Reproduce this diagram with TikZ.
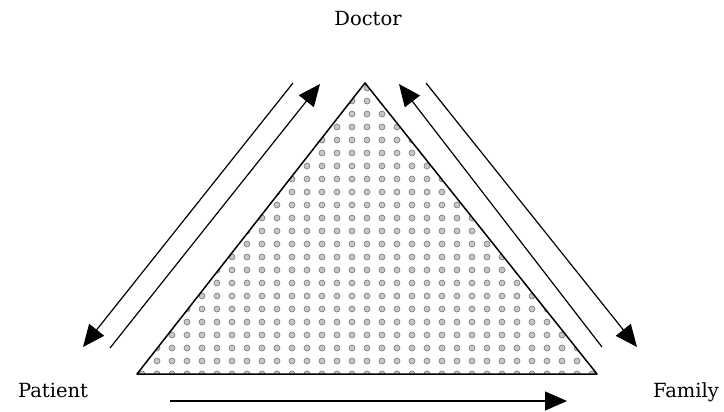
\documentclass[tikz,border=0pt]{standalone}
\usepackage{fontspec}
\setmainfont{DejaVu Serif}
\usetikzlibrary{arrows.meta}

\begin{document}
\begin{tikzpicture}[
  x=1pt, y=-1pt,
  font=\fontsize{19.5}{24}\selectfont,
  role/.style={inner sep=0pt, anchor=base},
  rail/.style={line width=1.2pt},
  link/.style={rail, -{Triangle[length=22pt,width=19pt]}},
  speck/.style={draw=black!55, fill=black!22, line width=0.6pt}
]
\useasboundingbox (0,0) rectangle (724,412);
% corners of the triangle
\coordinate (top) at (365,83);
\coordinate (bl) at (137,374);
\coordinate (br) at (597,374);
% stippled fill
\begin{scope}
  \clip (top) -- (bl) -- (br) -- cycle;
  \foreach \i in {0,...,31}
    \foreach \j in {0,...,22}
      \draw[speck] (142+15*\i,88+13*\j) circle (3pt);
\end{scope}
\draw[line width=1.5pt, line join=round] (top) -- (bl) -- (br) -- cycle;

\node[role] (doctor) at (368,26) {Doctor};
\node[role] (patient) at (53,397) {Patient};
\node[role] (family) at (686,397) {Family};

% arrow ends
\coordinate (lo1) at (293,83);  \coordinate (lo2) at (83,347);
\coordinate (li1) at (110,348); \coordinate (li2) at (320,84);
\coordinate (ri1) at (602,347); \coordinate (ri2) at (399,84);
\coordinate (ro1) at (426,83);  \coordinate (ro2) at (637,347);
\coordinate (b1) at (170,401);  \coordinate (b2) at (567,401);

\draw[link] (lo1) -- (lo2);
\draw[link] (li1) -- (li2);
\draw[link] (ri1) -- (ri2);
\draw[link] (ro1) -- (ro2);
\draw[link] (b1) -- (b2);
\end{tikzpicture}
\end{document}
